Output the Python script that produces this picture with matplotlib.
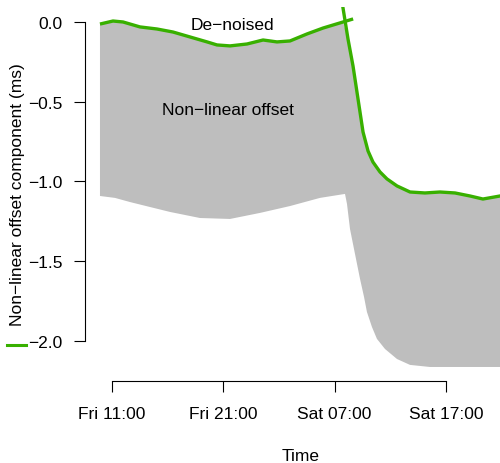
import matplotlib
matplotlib.use("Agg")
import matplotlib.pyplot as plt
from matplotlib.lines import Line2D
import numpy as np

plt.rcParams['font.family'] = ['Liberation Sans', 'DejaVu Sans']

# Time in hours since Fri 00:00
tick_hours = [11, 21, 31, 41]
tick_labels = ["Fri 11:00", "Fri 21:00", "Sat 07:00", "Sat 17:00"]
y_ticks = [0.0, -0.5, -1.0, -1.5, -2.0]
y_tick_labels = ["0.0", "\u22120.5", "\u22121.0", "\u22121.5", "\u22122.0"]

# De-noised curve, first piece (before the step)
denoised1_t = [9.92, 11.09, 11.99, 13.51, 15.04, 16.48, 18.01, 19.54, 20.43, 21.60,
               23.13, 24.57, 25.82, 26.99, 28.52, 29.96, 31.76, 32.66]
denoised1_v = [-0.013, 0.006, 0.0, -0.031, -0.044, -0.063, -0.094, -0.125, -0.144, -0.150,
               -0.138, -0.113, -0.125, -0.119, -0.075, -0.038, 0.0, 0.019]

# De-noised curve, second piece (after the step)
denoised2_t = [31.57, 31.75, 32.20, 32.65, 33.10, 33.55, 34.00, 34.44, 35.07, 35.70,
               36.60, 37.77, 39.11, 40.46, 41.81, 43.16, 44.32, 45.85, 47.38]
denoised2_v = [0.176, 0.088, -0.107, -0.276, -0.483, -0.690, -0.809, -0.878, -0.940, -0.984,
               -1.028, -1.066, -1.072, -1.066, -1.072, -1.091, -1.110, -1.091, -1.078]

# Lower envelope of the non-linear offset point cloud
lower_t = [9.92, 11.27, 12.62, 14.41, 16.21, 18.90, 21.60, 24.30, 26.99, 29.68, 31.93,
           32.11, 32.38, 32.83, 33.28, 33.64, 33.90, 34.35, 34.80, 35.52, 36.60, 37.77,
           39.56, 42.26, 47.38]
lower_v = [-1.091, -1.103, -1.129, -1.160, -1.191, -1.229, -1.235, -1.197, -1.154, -1.103, -1.078,
           -1.141, -1.298, -1.455, -1.611, -1.724, -1.818, -1.912, -1.987, -2.050, -2.113, -2.150,
           -2.163, -2.163, -2.163]

GREEN = "#38B000"
GRAY = "#BEBEBE"
FS = 12.5

fig = plt.figure(figsize=(5.0, 4.64), dpi=100)
ax = fig.add_axes([0.17, 0.1767, 0.864, 0.8061])

# upper envelope: piece 1 up to the step, then piece 2 after it
up_t = [t for t in denoised1_t if t <= 31.76] + [t for t in denoised2_t if t >= 32.2]
up_v = [v for t, v in zip(denoised1_t, denoised1_v) if t <= 31.76] + \
       [v for t, v in zip(denoised2_t, denoised2_v) if t >= 32.2]
poly_t = up_t + lower_t[::-1]
poly_v = up_v + lower_v[::-1]
ax.fill(poly_t, poly_v, color=GRAY, lw=0, zorder=1)

ax.plot(denoised1_t, denoised1_v, color=GREEN, lw=2.4, zorder=3, solid_capstyle='butt')
ax.plot(denoised2_t, denoised2_v, color=GREEN, lw=2.4, zorder=3, solid_capstyle='butt')

ax.set_xlim(8.575, 47.38)
ax.set_ylim(-2.251, 0.094)

for s in ['top', 'right']:
    ax.spines[s].set_visible(False)
ax.spines['left'].set_bounds(-2.0, 0.0)
ax.spines['bottom'].set_bounds(11, 41)
for s in ['left', 'bottom']:
    ax.spines[s].set_linewidth(0.8)
    ax.spines[s].set_color('black')

ax.set_xticks(tick_hours)
ax.set_xticklabels(tick_labels, fontsize=FS)
ax.set_yticks(y_ticks)
ax.set_yticklabels(y_tick_labels, fontsize=FS)
ax.tick_params(axis='x', length=8, width=0.8, pad=10, color='black')
ax.tick_params(axis='y', length=8, width=0.8, pad=8, color='black')

ax.text(21.78, -0.044, "De\u2212noised", fontsize=FS, ha='center', va='baseline', zorder=4)
ax.text(21.4, -0.577, "Non\u2212linear offset", fontsize=FS, ha='center', va='baseline', zorder=4)

fig.text(18/500, 1 - 195/464, "Non\u2212linear offset component (ms)", rotation=90,
         fontsize=FS, ha='center', va='center')
fig.text(301/500, 1 - 457/464, "Time", fontsize=FS, ha='center', va='center')

fig.add_artist(Line2D([7/500, 26/500], [1 - 346/464, 1 - 346/464], color=GREEN, lw=2.2))

fig.savefig("out.png", dpi=100)
